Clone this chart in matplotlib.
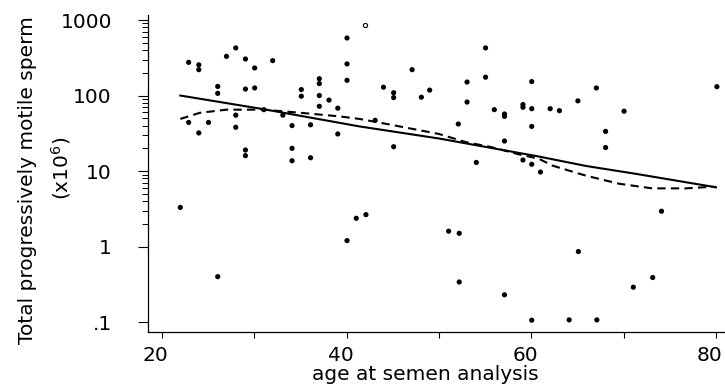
import matplotlib
matplotlib.use("Agg")
import matplotlib.pyplot as plt
from matplotlib.ticker import FixedLocator, FixedFormatter, NullFormatter
from matplotlib.transforms import ScaledTranslation

plt.rcParams['font.family'] = ['DejaVu Sans']

# ---- data ----
ages = [22.0, 22.9, 22.9, 24.0, 24.0, 24.0, 25.05, 26.05, 26.05, 26.05,
        27.0, 28.0, 28.0, 28.0, 29.05, 29.05, 29.05, 29.05, 30.05, 30.05,
        31.05, 32.0, 33.1, 34.1, 34.1, 34.1, 35.1, 35.1, 36.1, 36.1,
        37.05, 37.05, 37.05, 37.05, 38.1, 39.05, 39.05, 40.05, 40.05, 40.05,
        40.05, 41.05, 42.1, 43.1, 44.0, 45.1, 45.1, 45.1, 47.1, 48.1,
        49.0, 51.05, 52.1, 52.2, 52.2, 53.05, 53.05, 54.05, 55.05, 55.05,
        56.0, 57.1, 57.1, 57.1, 57.1, 59.1, 59.1, 59.1, 60.05, 60.05,
        60.05, 60.05, 60.05, 61.0, 62.05, 63.05, 64.1, 65.05, 65.1, 67.05,
        67.1, 68.05, 68.05, 70.05, 71.05, 73.15, 74.1, 80.1]
sperm = [3.3, 275, 44, 255, 220, 32, 44, 132, 107, 0.40,
         330, 427, 55, 38, 305, 122, 19, 16, 232, 126,
         65, 290, 55, 40, 20, 13.7, 120, 98, 41, 15,
         167, 144, 100, 72, 87, 68, 31, 578, 262, 159,
         1.2, 2.37, 2.65, 47, 129, 109, 94, 21, 220, 95,
         118, 1.6, 42, 1.5, 0.34, 151, 82, 13, 427, 175,
         65, 57, 53, 25, 0.23, 76, 70, 14, 153, 67,
         39, 12.3, 0.106, 9.7, 67, 63, 0.107, 85, 0.86, 126,
         0.107, 33.5, 20.5, 62, 0.29, 0.39, 2.94, 131]

open_age = [42.05]
open_sperm = [865]

solid_age = [22, 31, 41.4, 50, 60.8, 65.9, 71.3, 80]
solid_val = [100, 66, 39, 27, 15.6, 11.7, 9.2, 6.1]

dash_age = [22, 24.1, 27, 31, 35.1, 39.2, 41.4, 44.6, 50, 53, 55.5, 58.7,
            60.8, 62.3, 65.9, 69.5, 73.1, 76.7, 79.6, 80]
dash_val = [49, 59, 65, 65, 59, 53, 49, 41.5, 31, 24, 21, 16.6,
            14.6, 11.8, 8.7, 6.8, 5.9, 5.9, 6.2, 6.1]

xticks = [20, 40, 60, 80]
xminor = [30, 50, 70]
yticks = [0.1, 1, 10, 100, 1000]
ylabels = ['.1', '1', '10', '100', '1000']

FS = 14.5

fig = plt.figure(figsize=(7.25, 3.88), dpi=100)
ax = fig.add_axes([148/725, 1 - 332/388, 1 - 148/725 - 0.001, (332 - 15)/388])

ax.scatter(ages, sperm, s=14, c='black', edgecolors='none', zorder=3)
ax.scatter(open_age, open_sperm, s=9, facecolors='white', edgecolors='black',
           linewidths=0.8, zorder=3)
ax.plot(solid_age, solid_val, color='black', lw=1.5, zorder=2)
ax.plot(dash_age, dash_val, color='black', lw=1.5, dashes=(4, 2.5), zorder=2)

ax.set_yscale('log')
ax.set_xlim(18.5, 80.9)
ax.set_ylim(0.074, 1165)

ax.yaxis.set_major_locator(FixedLocator(yticks))
ax.yaxis.set_major_formatter(FixedFormatter(ylabels))
yminor = [m * d for d in (1, 10, 100) for m in range(2, 10)]
ax.yaxis.set_minor_locator(FixedLocator(yminor))
ax.yaxis.set_minor_formatter(NullFormatter())
ax.xaxis.set_major_locator(FixedLocator(xticks))
ax.xaxis.set_minor_locator(FixedLocator(xminor))

for s in ('top', 'right'):
    ax.spines[s].set_visible(False)
for s in ('left', 'bottom'):
    ax.spines[s].set_linewidth(0.9)

ax.tick_params(axis='y', which='major', length=7, width=0.8, pad=19, labelsize=FS)
ax.tick_params(axis='y', which='minor', length=4, width=0.7)
ax.tick_params(axis='x', which='major', length=4, width=0.8, pad=6, labelsize=FS)
ax.tick_params(axis='x', which='minor', length=4, width=0.8)

# x tick labels sit slightly left of their ticks in the reference
for tick in ax.xaxis.get_major_ticks():
    dx = -12 if tick.get_loc() == xticks[-1] else -6
    tick.label1.set_transform(tick.label1.get_transform() +
                              ScaledTranslation(dx / 100, 0, fig.dpi_scale_trans))

fig.text(425/725, 1 - 380/388, 'age at semen analysis', ha='center',
         va='baseline', fontsize=FS)
fig.text(28/725, 1 - 180/388, 'Total progressively motile sperm', rotation=90,
         ha='center', va='center', fontsize=FS)
fig.text(61/725, 1 - 168/388, '(x10$^6$)', rotation=90,
         ha='center', va='center', fontsize=FS)

fig.savefig('out.png', dpi=100)
